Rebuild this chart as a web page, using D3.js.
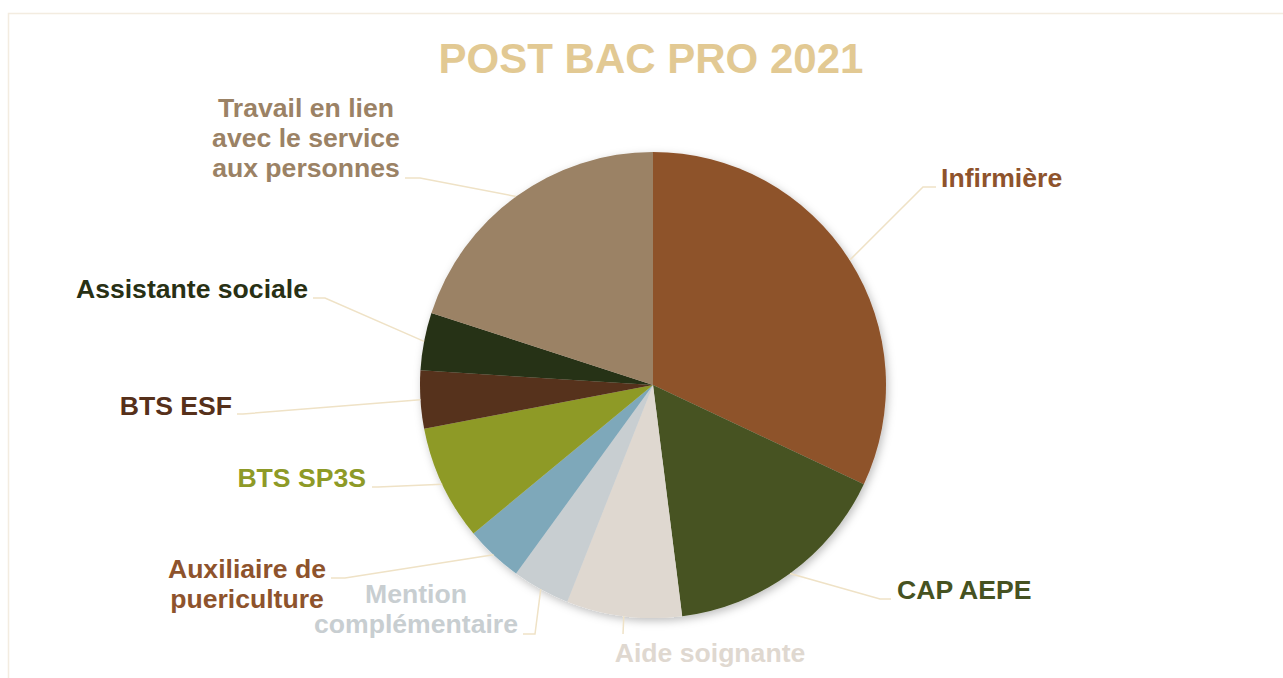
<!DOCTYPE html>
<html>
<head>
<meta charset="utf-8">
<script src="https://cdn.jsdelivr.net/npm/d3@7"></script>
<style>
  body { margin: 0; background: #fff; }
  text { font-family: "Liberation Sans", Arial, sans-serif; font-weight: bold; }
</style>
</head>
<body>
<div class="chart"></div>
<script>
// data
const categories = ['Infirmière', 'CAP AEPE', 'Aide soignante', 'Mention complémentaire',
    'Auxiliaire de puericulture', 'BTS SP3S', 'BTS ESF', 'Assistante sociale',
    'Travail en lien avec le service aux personnes'];
const counts = [8, 4, 2, 1, 1, 2, 1, 1, 5];
const labelLines = [['Infirmière'], ['CAP AEPE'], ['Aide soignante'], ['Mention', 'complémentaire'],
    ['Auxiliaire de', 'puericulture'], ['BTS SP3S'], ['BTS ESF'], ['Assistante sociale'],
    ['Travail en lien', 'avec le service', 'aux personnes']];
const sliceColors = ['#8e532c', '#465221', '#dfd8d0', '#c8ced1', '#7ea8ba', '#8e9a27', '#56301a', '#283014', '#9b8265'];
const labelColors = ['#8e532c', '#465221', '#dfd8d0', '#c8ced1', '#8e532c', '#8e9a27', '#56301a', '#283014', '#9b8265'];

// label placement (layout): text anchor point, elbow of the leader line, end of leader line
const labelLayout = [
    {x: 941, y: 187, anchor: 'start',  bend: [923, 187], end: [936, 187]},
    {x: 897, y: 599, anchor: 'start',  bend: [880, 599], end: [891, 599]},
    {x: 710, y: 662, anchor: 'middle', bend: [623, 634], end: [623, 634]},
    {x: 416, y: 603, anchor: 'middle', bend: [535, 634], end: [523, 634]},
    {x: 247, y: 578, anchor: 'middle', bend: [345, 578], end: [331, 578]},
    {x: 366, y: 487, anchor: 'end',    bend: [378, 487], end: [372, 487]},
    {x: 232, y: 415, anchor: 'end',    bend: [243, 414], end: [237, 414]},
    {x: 308, y: 298, anchor: 'end',    bend: [325, 298], end: [313, 298]},
    {x: 306, y: 117, anchor: 'middle', bend: [420, 178], end: [405, 178]}
];

const _width = 1283, _height = 678;
const cx = 653, cy = 385, radius = 233;

let svg = d3.select('.chart')
    .append('svg')
    .attr('width', _width)
    .attr('height', _height);

let defs = svg.append('defs');
defs.append('filter')
    .attr('id', 'shadow')
    .attr('x', '-10%').attr('y', '-10%')
    .attr('width', '120%').attr('height', '120%')
    .append('feDropShadow')
    .attr('dx', 2).attr('dy', 3)
    .attr('stdDeviation', 4)
    .attr('flood-color', '#000')
    .attr('flood-opacity', 0.25);

// chart area border
svg.append('rect')
    .attr('x', 8.5).attr('y', 13.5)
    .attr('width', _width + 20).attr('height', _height + 20)
    .attr('fill', 'none')
    .attr('stroke', '#f3ece0')
    .attr('stroke-width', 1.5);

// title
svg.append('text')
    .attr('x', 651).attr('y', 73)
    .attr('text-anchor', 'middle')
    .attr('font-size', 42)
    .attr('fill', '#e2c993')
    .text('POST BAC PRO 2021');

let slices = categories.map((c, i) => ({name: c, value: counts[i], i: i}));
let pie = d3.pie().sort(null).value(d => d.value);
let arcs = pie(slices);
let arc = d3.arc().innerRadius(0).outerRadius(radius);

let g = svg.append('g').attr('transform', `translate(${cx},${cy})`);

g.append('g')
    .attr('filter', 'url(#shadow)')
    .selectAll('path')
    .data(arcs)
    .enter().append('path')
    .attr('d', arc)
    .attr('fill', d => sliceColors[d.data.i]);

// leader lines
svg.append('g')
    .selectAll('polyline')
    .data(arcs)
    .enter().append('polyline')
    .attr('fill', 'none')
    .attr('stroke', '#efe2c6')
    .attr('stroke-width', 1.5)
    .attr('points', d => {
        let a = (d.startAngle + d.endAngle) / 2;
        let p0 = [cx + radius * Math.sin(a), cy - radius * Math.cos(a)];
        let l = labelLayout[d.data.i];
        return [p0, l.bend, l.end].map(p => p.join(',')).join(' ');
    });

// labels
let labels = svg.append('g')
    .selectAll('text')
    .data(arcs)
    .enter().append('text')
    .attr('font-size', 26.6)
    .attr('fill', d => labelColors[d.data.i])
    .attr('text-anchor', d => labelLayout[d.data.i].anchor)
    .attr('x', d => labelLayout[d.data.i].x)
    .attr('y', d => labelLayout[d.data.i].y);

labels.selectAll('tspan')
    .data(d => labelLines[d.data.i].map(t => ({t: t, x: labelLayout[d.data.i].x})))
    .enter().append('tspan')
    .attr('x', d => d.x)
    .attr('dy', (d, j) => j === 0 ? 0 : 30)
    .text(d => d.t);
</script>
</body>
</html>
